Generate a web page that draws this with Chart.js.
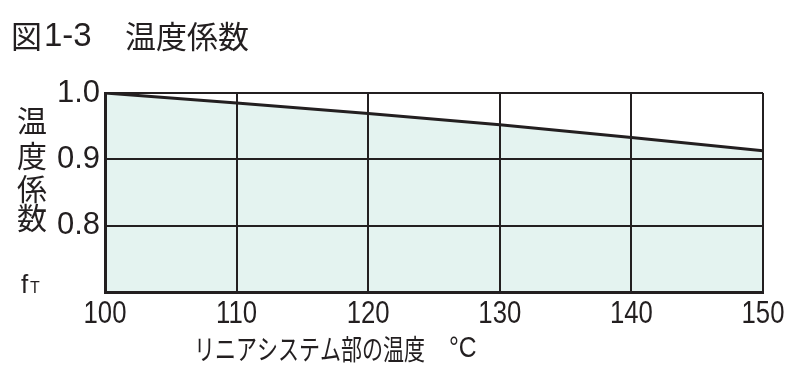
<!DOCTYPE html>
<html><head><meta charset="utf-8">
<script src="https://cdn.jsdelivr.net/npm/chart.js@4/dist/chart.umd.min.js"></script>
<style>html,body{margin:0;padding:0;background:#fff}#w{position:relative;width:800px;height:381px}</style>
</head><body><div id="w"><canvas id="c" width="800" height="381"></canvas></div>
<script>
const temps = [100, 110, 120, 130, 140, 150];
const factors = [1.0, 0.985, 0.969, 0.952, 0.933, 0.913];
const xTicks = [100, 110, 120, 130, 140, 150];
const yTicks = [0.7, 0.8, 0.9, 1.0];
const titleNum = '図1-3';
const titleText = '温度係数';
const yLabelChars = ['温', '度', '係', '数'];
const xTitle = 'リニアシステム部の温度';
const xUnit = '°C';

const INK = '#231f20';
const CJK = '"Noto Sans CJK JP", sans-serif';

const textPlugin = {
  id: 'texts',
  afterDraw(chart) {
    const ctx = chart.ctx, a = chart.chartArea;
    ctx.save();
    ctx.fillStyle = INK;
    // x tick labels (condensed), placed by the x scale
    const xs = chart.scales.x;
    ctx.textBaseline = 'top';
    ctx.textAlign = 'center';
    ctx.font = '31px "Liberation Sans"';
    xTicks.forEach(v => {
      ctx.save();
      ctx.translate(xs.getPixelForValue(v), a.bottom + 7);
      ctx.scale(0.83, 1);
      ctx.fillText(String(v), 0, 0);
      ctx.restore();
    });
    // title
    ctx.textBaseline = 'middle';
    ctx.textAlign = 'left';
    ctx.font = '31px ' + CJK;
    ctx.fillText(titleNum.slice(0, 1), 11, 36);
    ctx.font = '33px "Liberation Sans"';
    ctx.fillText(titleNum.slice(1), 44, 37);
    ctx.font = '31px ' + CJK;
    ctx.fillText(titleText, 125, 36);
    // y label stacked
    ctx.textAlign = 'center';
    const ys = [121, 156, 189, 218];
    ctx.font = '30px ' + CJK;
    yLabelChars.forEach((ch, i) => ctx.fillText(ch, 32, ys[i]));
    // f_T
    ctx.textAlign = 'left';
    ctx.textBaseline = 'alphabetic';
    ctx.font = '26px "Liberation Sans"';
    ctx.fillText('f', 21, 293);
    ctx.font = '16px "Liberation Sans"';
    ctx.fillText('T', 30, 293);
    // x title (condensed)
    ctx.textBaseline = 'middle';
    ctx.save();
    ctx.translate(194, 349);
    ctx.scale(0.75, 1);
    ctx.font = '28px ' + CJK;
    ctx.fillText(xTitle, 0, 0);
    ctx.restore();
    ctx.save();
    ctx.translate(449, 349);
    ctx.scale(0.85, 1);
    ctx.font = '29px "Liberation Sans"';
    ctx.fillText(xUnit, 0, 0);
    ctx.restore();
    ctx.restore();
  }
};

new Chart(document.getElementById('c'), {
  type: 'line',
  data: {
    datasets: [{
      data: temps.map((t, i) => ({x: t, y: factors[i]})),
      borderColor: INK,
      borderWidth: 3,
      pointRadius: 0,
      tension: 0,
      fill: 'start',
      backgroundColor: '#e4f3f0'
    }]
  },
  options: {
    responsive: false,
    animation: false,
    layout: {padding: {top: 93, right: 37, left: 0, bottom: 0}},
    plugins: {legend: {display: false}, tooltip: {enabled: false}, title: {display: false}},
    scales: {
      x: {
        type: 'linear', min: 100, max: 150,
        afterBuildTicks: s => { s.ticks = xTicks.map(v => ({value: v})); },
        afterFit: s => { s.height = 89; },
        grid: {color: INK, lineWidth: 2, drawTicks: false, z: 1},
        border: {color: INK, width: 3, z: 2},
        ticks: {display: false}
      },
      y: {
        min: 0.7, max: 1.0,
        afterBuildTicks: s => { s.ticks = yTicks.map(v => ({value: v})); },
        afterFit: s => { s.width = 105; },
        grid: {color: INK, lineWidth: 2, drawTicks: false, z: 1},
        border: {color: INK, width: 3, z: 2},
        ticks: {color: INK, padding: 5, autoSkip: false,
          callback: v => (Math.abs(v - 0.7) < 1e-6 ? '' : v.toFixed(1)),
          font: {family: '"Liberation Sans"', size: 31}}
      }
    }
  },
  plugins: [textPlugin]
});
</script></body></html>
